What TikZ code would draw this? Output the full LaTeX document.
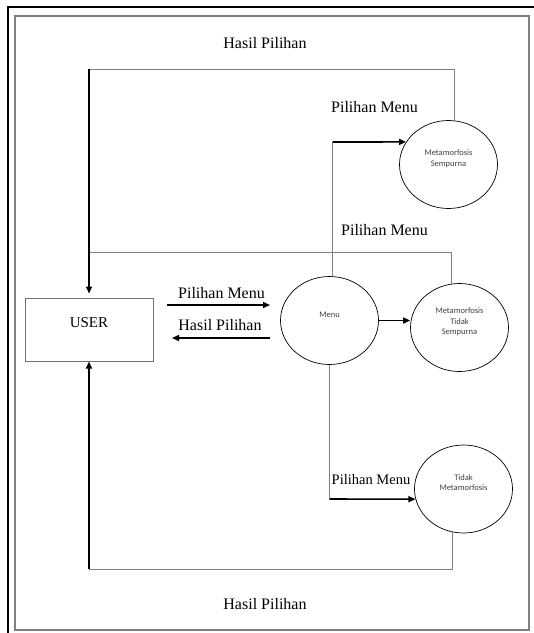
\documentclass[tikz,border=0pt]{standalone}
\usepackage{fontspec}
\setmainfont{Liberation Serif}
\newfontfamily\smallsans{Carlito}
\usetikzlibrary{arrows.meta,shapes.geometric}
\newcommand{\proctext}[1]{\raisebox{3.5pt}[0pt][0pt]{\begin{tabular}{@{}c@{}}#1\end{tabular}}}

\begin{document}
\begin{tikzpicture}[x=1pt, y=-1pt,
lbl/.style={font=\fontsize{16}{19}\selectfont, inner sep=0pt},
proc/.style={draw, ellipse, line width=0.7pt, minimum width=98pt, minimum height=88pt,
  inner sep=0pt, font=\smallsans\fontsize{8.5}{10.5}\selectfont, text=black!75},
flow/.style={draw=black!50, line width=0.8pt},
arr/.style={line width=1.6pt, -{Triangle[length=7pt,width=6pt]}}]

\useasboundingbox (0,0) rectangle (534,633);
\draw[line width=2pt] (8,633) -- (8,7) -- (534,7);
\draw[black!50, line width=1.4pt] (15,16) rectangle (529,630);

\node[draw=black!55, line width=1pt, minimum width=128pt, minimum height=63pt,
  font=\fontsize{15}{18}\selectfont, text depth=13pt] (user) at (89,329.5) {USER};

\node[proc] (menu) at (329.5,320.5) {\proctext{Menu}};
\node[proc] (ms) at (448.5,164.5) {\proctext{Metamorfosis\\Sempurna}};
\node[proc] (mts) at (459.5,327.5) {\proctext{Metamorfosis\\Tidak\\Sempurna}};
\node[proc] (tm) at (463.5,489) {\proctext{Tidak\\Metamorfosis}};

\node[lbl] (hpTop) at (265,43) {Hasil Pilihan};
\node[lbl] (pmSemp) at (374.5,107) {Pilihan Menu};
\node[lbl] (pmTidakSemp) at (384.5,230) {Pilihan Menu};
\node[lbl] (pmUser) at (221.5,293) {Pilihan Menu};
\node[lbl] (hpUser) at (220,325) {Hasil Pilihan};
\node[lbl, font=\fontsize{14.5}{17}\selectfont] (pmTidak) at (371,480) {Pilihan Menu};
\node[lbl] (hpBottom) at (265,604) {Hasil Pilihan};

\coordinate (c1) at (user.north |- 0,69);
\coordinate (c2) at (user.north |- 0,252);
\coordinate (c3) at (menu.86 |- 0,142);
\coordinate (c4) at (menu.south |- 0,499);
\coordinate (c5) at (user.south |- 0,569);
\coordinate (pa) at (167,305);
\coordinate (pb) at (270,305);
\coordinate (ha) at (270,338);
\coordinate (hb) at (172,338);

\draw[flow] (ms.82) |- (c1);
\draw[flow] (mts.101) |- (c2);
\draw[arr, shorten >=4pt] (c1) -- (user.north);
\draw[flow] (menu.86) -- (c3);
\draw[arr] (c3) -- (ms.152);
\draw[arr] (pa) -- (pb);
\draw[arr] (ha) -- (hb);
\draw[arr] (menu.east) -- (mts.west |- menu.east);
\draw[flow] (menu.south) -- (c4);
\draw[arr] (c4) -- (tm.192);
\draw[flow] (tm.256) |- (c5);
\draw[arr] (c5) -- (user.south);

\end{tikzpicture}
\end{document}
